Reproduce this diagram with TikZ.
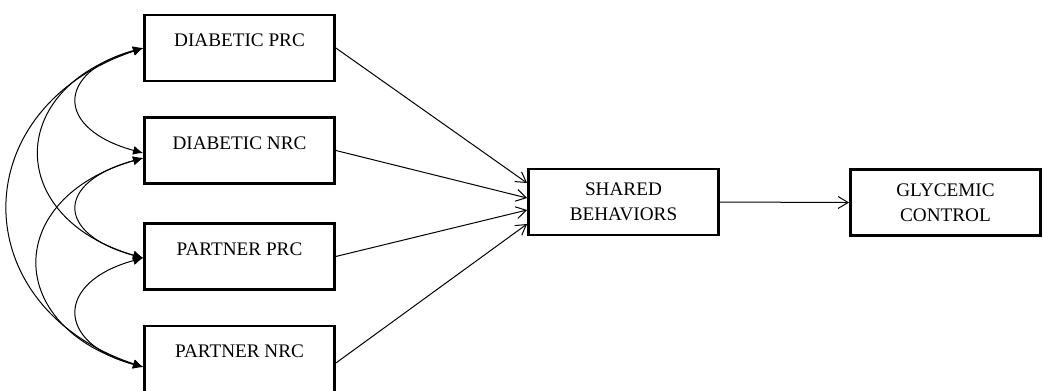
\documentclass[tikz,border=0pt]{standalone}
\usepackage{fontspec}
\setmainfont{Liberation Serif}
\usepackage{tikz}
\usetikzlibrary{calc, arrows, arrows.meta}
\tikzset{>=latex}
\tikzset{
  var/.style={draw, line width=1.4pt, minimum width=95pt, minimum height=33pt,
    align=center, inner sep=0pt, font=\fontsize{9.6pt}{12.5pt}\selectfont},
  effect/.style={->, line width=0.5pt, >={Straight Barb[length=5pt,width=6pt]}},
  corr/.style={<->, line width=0.5pt, >={Latex[length=5pt,width=4.5pt]}}
}

\begin{document}
\begin{tikzpicture}[scale = 1]
\useasboundingbox (0,0) rectangle (18.33,-6.854);
% variables
\node[var] (dprc) at (4.209,-0.844) {DIABETIC PRC\\[-5pt] \mbox{}};
\node[var] (dnrc) at (4.209,-2.645) {DIABETIC NRC\\[-5pt] \mbox{}};
\node[var] (pprc) at (4.209,-4.507) {PARTNER PRC\\[-5pt] \mbox{}};
\node[var] (pnrc) at (4.209,-6.309) {PARTNER NRC\\[-5pt] \mbox{}};
\node[var] (shared) at (10.957,-3.550) {SHARED\\BEHAVIORS};
\node[var] (glyc) at (16.615,-3.559) {GLYCEMIC\\CONTROL};
% paths
\draw[effect] (dprc.east) -- ([yshift=9.5pt]shared.west);
\draw[effect] (dnrc.east) -- ([yshift=2pt]shared.west);
\draw[effect] (pprc.east) -- ([yshift=-4pt]shared.west);
\draw[effect] ([yshift=-2pt]pnrc.east) -- ([yshift=-11pt]shared.west);
\draw[effect] (shared.east) -- (glyc.west);
% correlations
\draw[corr] (dprc.west) .. controls +(-44pt,-12pt) and +(-44pt,12pt) .. ([yshift=-1.25pt]dnrc.west);
\draw[corr] ([yshift=-3.75pt]dnrc.west) .. controls +(-44pt,-12pt) and +(-44pt,12pt) .. ([yshift=-0.75pt]pprc.west);
\draw[corr] ([yshift=-0.75pt]pprc.west) .. controls +(-44pt,-12pt) and +(-44pt,12pt) .. ([yshift=-4pt]pnrc.west);
\draw[corr] (dprc.west) .. controls +(-69pt,-20pt) and +(-69pt,20pt) .. ([yshift=-0.75pt]pprc.west);
\draw[corr] ([yshift=-3.75pt]dnrc.west) .. controls +(-70pt,-20pt) and +(-70pt,20pt) .. ([yshift=-4pt]pnrc.west);
\draw[corr] (dprc.west) .. controls +(-90pt,-30pt) and +(-90pt,30pt) .. ([yshift=-4pt]pnrc.west);
\end{tikzpicture}
\end{document}
